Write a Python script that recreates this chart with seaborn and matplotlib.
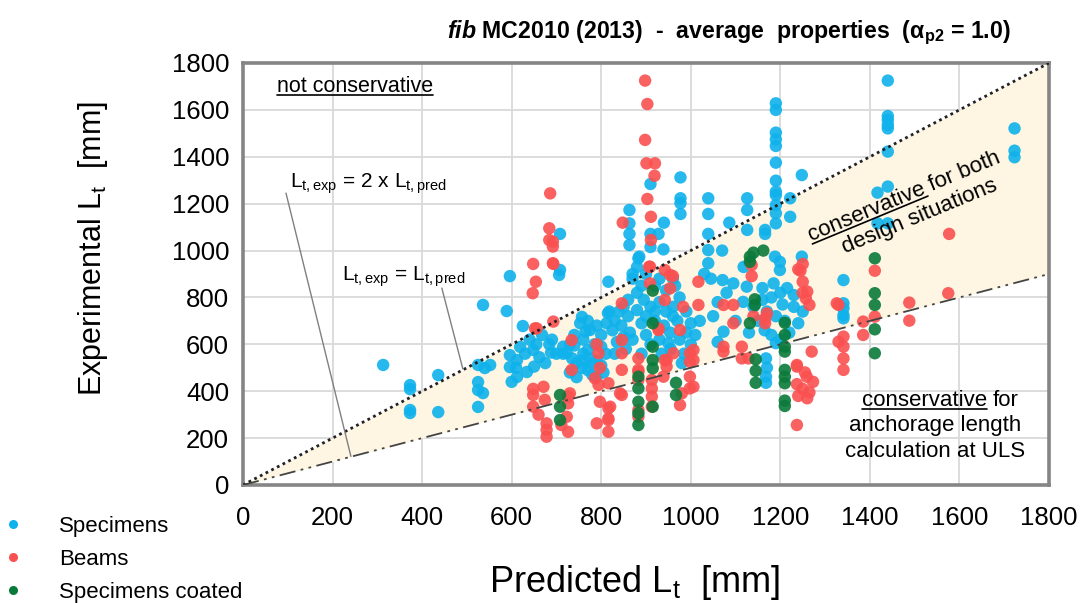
import numpy as np
import pandas as pd
import matplotlib
matplotlib.use("Agg")
import matplotlib.pyplot as plt
import seaborn as sns
from matplotlib.lines import Line2D
from matplotlib import font_manager as fm

# ---------------- data ----------------
specimens = [
    (313,512),(373,426),(373,409),(373,320),(373,307),(436,469),(436,311),
    (525,512),(540,499),(552,512),(525,439),(525,405),(536,392),(525,333),
    (536,768),(589,742),(596,891),(625,678),
    (596,554),(612,533),(596,503),(612,461),(600,440),(634,482),(648,576),(619,589),(640,620),
    (655,600),(662,545),(675,520),(688,565),(650,505),(668,640),(684,600),(630,560),(610,500),
    (708,1071),(708,917),(706,896),(690,620),(700,560),(715,590),
    (723,563),(735,540),(745,520),(757,500),(770,490),(780,470),(790,460),(760,560),(775,540),
    (790,530),(800,510),(757,717),(770,700),(790,680),(775,661),(753,690),(740,640),(760,620),
    (730,600),(715,560),(730,480),(745,460),(770,575),(785,600),(800,590),(810,560),(740,595),
    (765,655),(800,640),(812,690),(818,740),(780,520),(755,530),(805,480),
    (816,867),(815,733),(830,700),(845,680),(864,650),(850,631),(825,660),(840,740),(860,720),
    (870,900),(880,930),(863,1173),(863,1116),(863,1071),(863,1024),(885,974),(883,967),(870,880),
    (890,850),(880,820),(860,790),(850,760),(835,610),(855,580),(870,620),(830,560),
    (910,1284),(940,1119),(910,1071),(928,1071),(939,1005),(910,1015),(880,746),(900,720),(920,700),
    (940,680),(954,650),(900,640),(930,620),(950,605),(890,690),(910,760),(930,780),(960,720),
    (970,700),(960,760),(945,830),(965,850),(930,880),(920,850),(890,560),(910,600),(935,560),
    (955,580),(975,620),(990,650),(1000,600),(985,560),(1000,690),(975,800),(900,900),(895,790),
    (920,740),(945,740),(990,740),(980,520),(960,880),
    (977,1312),(977,1223),(977,1202),(977,1156),
    (1039,1223),(1039,1156),(1039,1071),(1039,1002),(1039,946),(1030,900),(1045,880),
    (1070,1000),(1071,874),(1073,654),(1060,780),(1080,820),(1050,720),(1020,700),(1010,640),
    (1095,860),(1100,700),(1060,610),
    (1126,1223),(1126,1173),(1086,1119),(1126,1088),(1166,1088),(1166,1071),(1118,930),(1125,846),
    (1190,1628),(1190,1600),(1190,1503),(1190,1474),(1190,1446),(1190,1375),(1190,1298),(1190,1251),
    (1190,1237),(1190,1194),(1190,1159),(1190,1116),(1188,974),(1199,952),(1199,917),
    (1248,1322),(1222,1223),(1222,1144),(1248,974),
    (1117,781),(1140,760),(1160,790),(1180,800),(1200,820),(1215,840),(1230,810),(1170,740),
    (1190,720),(1210,700),(1150,700),(1165,660),(1180,640),(1200,620),(1220,650),(1240,690),
    (1130,650),(1190,605),(1230,760),(1250,740),(1185,860),(1160,840),(1205,770),
    (1168,540),(1168,462),(1168,436),(1170,500),
    (1341,874),(1341,775),(1341,754),(1341,725),(1341,711),
    (1440,1725),(1440,1574),(1440,1557),(1440,1536),(1440,1521),(1440,1422),(1440,1273),
    (1417,1247),(1417,1116),(1440,1116),
    (1723,1521),(1723,1426),(1723,1398),
]

beams = [
    (686,1244),(684,1095),(684,1045),(692,1038),(692,1017),(692,946),(648,943),(654,867),(647,818),
    (693,943),(652,668),(693,697),(656,668),(734,618),(734,491),
    (648,384),(671,419),(674,363),(648,334),(678,263),(678,235),(678,206),(660,300),(648,410),
    (730,391),(726,348),(723,291),(726,227),(726,377),(711,256),
    (794,562),(786,455),(794,427),(797,355),(820,334),(790,263),(816,284),(816,227),(797,500),
    (816,434),(816,327),(816,277),(790,600),
    (846,618),(846,562),(842,391),(846,491),(846,384),(846,775),(848,1119),
    (883,540),(883,491),(883,291),(883,448),(883,320),(883,483),
    (913,448),(913,412),(913,377),(913,334),(909,931),(909,860),(942,917),(954,896),(954,839),
    (942,789),(928,661),(946,533),(942,533),(946,505),(939,462),(961,562),(928,668),
    (898,1725),(903,1625),(898,1472),(901,1372),(920,1372),(919,1319),(903,1220),(911,1144),
    (911,1045),(907,931),(960,891),
    (976,661),(983,760),(980,391),(976,341),(998,462),(1006,576),(1006,533),(998,562),(998,526),
    (998,412),(1006,419),(1017,867),(1017,768),
    (1073,768),(1095,768),(1095,690),(1073,590),(1073,569),(1114,590),(1114,540),(1129,540),
    (1136,938),(1136,891),(1140,720),(1166,710),(1166,690),(1170,732),
    (1250,943),(1245,914),(1250,867),(1250,820),(1257,796),(1240,920),(1260,825),(1265,768),
    (1326,775),(1330,768),(1385,697),(1385,640),(1330,611),(1341,633),(1341,590),(1341,540),
    (1341,491),
    (1270,569),(1237,512),(1259,462),(1237,430),(1250,410),(1265,395),(1240,380),(1260,370),
    (1237,256),(1237,505),(1255,480),(1273,440),
    (1411,914),(1411,718),(1488,778),(1488,701),(1575,818),(1577,1071),
]

specimens_coated = [
    (1140,991),(1162,1000),(1132,974),(1132,952),(915,829),(1143,792),(1143,768),(1132,690),
    (1210,692),(1210,640),(1210,590),(1210,569),(1210,491),(1210,462),(1210,434),(1210,360),
    (1210,337),
    (1145,536),(1145,487),(1145,436),
    (915,690),(915,590),(915,533),(915,498),(915,334),
    (883,462),(883,412),(883,355),(883,306),(883,256),
    (708,384),(708,334),(708,277),
    (967,436),(967,384),
    (1411,967),(1411,818),(1411,768),(1411,664),(1411,562),
]

series_names = ["Specimens", "Beams", "Specimens coated"]
series_colors = ["#0fb2ec", "#fa5050", "#0a7a3a"]
axis_range = [0, 1800]
tick_values = [0, 200, 400, 600, 800, 1000, 1200, 1400, 1600, 1800]

# ---------------- style ----------------
sns.set_theme(style="white")
plt.rcParams["font.family"] = ["Liberation Sans", "DejaVu Sans"]
for k in ["text.color", "axes.labelcolor", "xtick.color", "ytick.color"]:
    plt.rcParams[k] = "black"
names = {f.name for f in fm.fontManager.ttflist}
title_family = "Liberation Sans Narrow" if "Liberation Sans Narrow" in names else "Liberation Sans"
plt.rcParams["mathtext.fontset"] = "custom"
plt.rcParams["mathtext.rm"] = "Liberation Sans"
plt.rcParams["mathtext.it"] = f"{title_family}:italic:bold"
plt.rcParams["mathtext.bf"] = "Liberation Sans:bold"

frames = []
for name, pts in zip(series_names, [specimens, beams, specimens_coated]):
    arr = np.array(pts, dtype=float)
    frames.append(pd.DataFrame({"pred": arr[:, 0], "exp": arr[:, 1], "group": name}))
df = pd.concat(frames, ignore_index=True)

DPI = 100
fig = plt.figure(figsize=(10.89, 6.03), dpi=DPI)
ax = fig.add_axes([243/1089, 1-485/603, 806/1089, 422/603])

ref = np.array(axis_range, dtype=float)
ax.fill_between(ref, ref/2, ref, color="#fef6e2", lw=0, zorder=1)
ax.plot(ref, ref, color="#222222", lw=2.0, ls=(0, (1, 1.3)), zorder=4)
ax.plot(ref, ref/2, color="#444444", lw=1.3, ls=(0, (9, 3, 1.5, 3, 1.5, 3)), zorder=4)

sns.scatterplot(data=df, x="pred", y="exp", hue="group", hue_order=series_names,
                palette=dict(zip(series_names, series_colors)), s=80, alpha=0.9,
                edgecolor="none", linewidth=0, ax=ax, legend=False, zorder=3)

ax.set_xlim(*axis_range)
ax.set_ylim(*axis_range)
ax.set_xticks(tick_values)
ax.set_yticks(tick_values)
ax.grid(True, color="#d9d9d9", lw=1.3, zorder=0)
ax.set_axisbelow(True)
for sp in ax.spines.values():
    sp.set_color("#858585")
    sp.set_linewidth(2.6)
ax.tick_params(axis="both", direction="in", length=5, width=1.2, color="#858585",
               labelsize=18.5, labelcolor="black")
ax.tick_params(axis="x", pad=15)
ax.tick_params(axis="y", pad=10)

ax.set_xlabel(r"Predicted L$_\mathregular{t}$  [mm]", fontsize=26, color="black")
ax.set_ylabel(r"Experimental L$_\mathregular{t}$  [mm]", fontsize=22, color="black")
ax.xaxis.set_label_coords(0.486, -0.185)
ax.yaxis.set_label_coords(-0.165, 0.56)

fig.text(729/1089, 1-38/603,
         r"$\mathit{fib}$ MC2010 (2013)  -  average  properties  (α$_\mathregular{p2}$ = 1.0)",
         ha="center", va="baseline", fontsize=16.7, fontweight="bold", family=title_family,
         color="black")

# legend
handles = [Line2D([], [], ls="", marker="o", markersize=6.5, markeredgewidth=0,
                  color=c) for c in series_colors]
leg = fig.legend(handles, series_names, loc="upper left", bbox_to_anchor=(0.0, 1-509/603),
                 frameon=False, fontsize=16, handlelength=0.6, handletextpad=1.75,
                 borderpad=0.3, borderaxespad=0, labelspacing=0.55)
for t in leg.get_texts():
    t.set_color("black")

# -------- annotations --------
renderer = fig.canvas.get_renderer()


def text_width(s, size):
    t = fig.text(0, 0, s, fontsize=size)
    w = t.get_window_extent(renderer).width
    t.remove()
    return w


def put(pdisp, s, rot, size, **kw):
    xd, yd = ax.transData.inverted().transform(pdisp)
    return ax.text(xd, yd, s, rotation=rot, rotation_mode="anchor", ha="left",
                   va="baseline", fontsize=size, zorder=6, color="black", **kw)


def underlined(center_disp, under, rest, size, rot=0, align="center"):
    full = under + (" " + rest if rest else "")
    W = text_width(full, size)
    wu = text_width(under, size)
    wsp = text_width(under + " x", size) - text_width("x", size)
    th = np.deg2rad(rot)
    d = np.array([np.cos(th), np.sin(th)])
    n = np.array([np.sin(th), -np.cos(th)])
    p = np.asarray(center_disp, dtype=float)
    start = p - d * W / 2 if align == "center" else p
    put(start, under, rot, size)
    if rest:
        put(start + d * wsp, rest, rot, size)
    off = size * DPI / 72 * 0.14
    a = start + n * off
    b = a + d * wu
    pts = fig.transFigure.inverted().transform(np.array([a, b]))
    fig.add_artist(Line2D(pts[:, 0], pts[:, 1], color="black", lw=1.2, zorder=6))


def centered(center_disp, s, size, rot=0):
    W = text_width(s, size)
    th = np.deg2rad(rot)
    d = np.array([np.cos(th), np.sin(th)])
    put(np.asarray(center_disp) - d * W / 2, s, rot, size)


def disp(x, y):
    return ax.transData.transform((x, y))


# "not conservative" (left aligned)
underlined(disp(76, 1676), "not conservative", "", 15.5, align="left")

# reference-line labels and leaders
ax.text(105, 1268, r"L$_\mathregular{t,exp}$ = 2 x L$_\mathregular{t,pred}$", fontsize=15,
        ha="left", va="baseline", zorder=6, color="black")
ax.text(220, 872, r"L$_\mathregular{t,exp}$ = L$_\mathregular{t,pred}$", fontsize=15,
        ha="left", va="baseline", zorder=6, color="black")
ax.plot([96, 241], [1245, 122], color="#808080", lw=1.0, zorder=5)
ax.plot([444, 491], [840, 495], color="#808080", lw=1.0, zorder=5)

# rotated text in the conservative band
rot = 22.5
c1 = disp(1482, 1209)
underlined(c1, "conservative", "for both", 16, rot=rot)
th = np.deg2rad(rot)
nvec = np.array([np.sin(th), -np.cos(th)])
centered(np.asarray(c1) + nvec * 24 + np.array([np.cos(th), np.sin(th)]) * 6,
         "design situations", 16, rot=rot)

# lower right text
underlined(disp(1557, 337), "conservative", "for", 16)
centered(disp(1545, 232), "anchorage length", 16)
centered(disp(1545, 121), "calculation at ULS", 16)

fig.savefig("out.png", dpi=DPI)
